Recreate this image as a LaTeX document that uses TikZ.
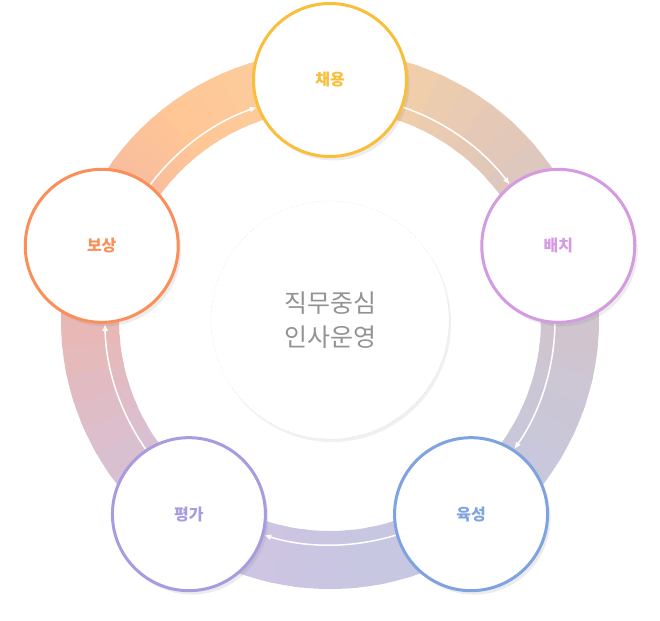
\documentclass[tikz,border=0pt]{standalone}
\usepackage{fontspec}
\setmainfont{Noto Sans CJK KR}
\usetikzlibrary{arrows.meta,shadows,calc}
\definecolor{bandA}{RGB}{250,208,160}
\definecolor{bandB}{RGB}{212,196,200}
\definecolor{bandC}{RGB}{196,200,226}
\definecolor{bandD}{RGB}{208,196,226}
\definecolor{bandE}{RGB}{240,180,165}
\definecolor{bandF}{RGB}{255,198,150}
\definecolor{colHire}{RGB}{249,190,58}
\definecolor{colPlace}{RGB}{213,155,224}
\definecolor{colTrain}{RGB}{127,162,224}
\definecolor{colEval}{RGB}{169,155,224}
\definecolor{colPay}{RGB}{250,143,90}
\tikzset{
  step/.style={circle,draw=#1,line width=3pt,fill=white,minimum size=153pt,
               text=#1,font=\bfseries\fontsize{16}{16}\selectfont,
               drop shadow={opacity=0.15,shadow xshift=3pt,shadow yshift=-4pt}},
  flow/.style={white,line width=1.5pt,-{Latex[length=7pt,width=6pt]}}
}
\begin{document}
\begin{tikzpicture}[x=1pt,y=1pt]
  \useasboundingbox (0,0) rectangle (660,-620);
  \def\R{240}
  \coordinate (C) at (330,-320);

  % BAND
  \foreach \a/\b/\ca/\cb in {162/126/bandE/bandF,126/90/bandF/bandA,90/18/bandA/bandB,
                             18/-54/bandB/bandC,-54/-126/bandC/bandD,-126/-198/bandD/bandE}{
    \foreach \k in {0,...,11}{
      \pgfmathsetmacro\p{100-100*\k/11}
      \pgfmathsetmacro\s{\a+(\b-\a)*\k/12}
      \pgfmathsetmacro\e{\a+(\b-\a)*(\k+1.3)/12}
      \draw[\ca!\p!\cb,line width=58pt] ($(C)+(\s:\R)$) arc[start angle=\s,end angle=\e,radius=\R];
    }
  }

  % ARROWS
  \foreach \a/\b in {90/18,18/-54,-54/-126,-126/-198,162/90}{
    \draw[flow] ($(C)+(\a-19:225)$) arc[start angle=\a-19,end angle=\b+19,radius=225];
  }

  % CENTER
  \node[circle,draw=gray!45,dotted,fill=white,minimum size=238pt,
        drop shadow={opacity=0.12,shadow xshift=2pt,shadow yshift=-3pt},
        align=center,text=gray!85,font=\fontsize{25}{34}\selectfont] (core) at (C) {직무중심\\인사운영};

  % STEPS
  \node[step=colHire]  (hire)  at ($(C)+(90:\R)$)  {채용};
  \node[step=colPlace] (place) at ($(C)+(18:\R)$)  {배치};
  \node[step=colTrain] (train) at ($(C)+(-54:\R)$) {육성};
  \node[step=colEval]  (eval)  at ($(C)+(-126:\R)$) {평가};
  \node[step=colPay]   (pay)   at ($(C)+(162:\R)$) {보상};
\end{tikzpicture}
\end{document}
